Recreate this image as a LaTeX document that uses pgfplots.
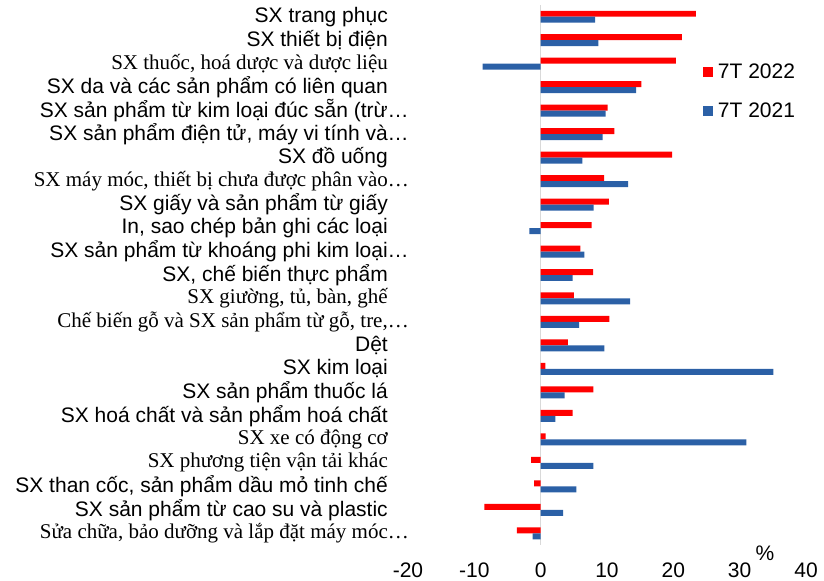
\documentclass[border=0pt]{standalone}
\usepackage{pgfplots}
\usepackage{pgfplotstable}
\pgfplotsset{compat=1.18}
\usepackage{fontspec}
\setmainfont{Liberation Sans}
\newfontfamily\serif{Liberation Serif}
\definecolor{cred}{RGB}{255,0,0}
\definecolor{cblue}{RGB}{43,96,166}
\definecolor{zline}{RGB}{217,217,217}
\pgfplotstableread{
idx y2022 y2021
0 23.4 8.2
1 21.3 8.7
2 20.4 -8.75
3 15.2 14.4
4 10.1 9.8
5 11.1 9.35
6 19.8 6.3
7 9.55 13.2
8 10.3 8.0
9 7.7 -1.7
10 6.0 6.6
11 7.9 4.8
12 5.0 13.5
13 10.35 5.8
14 4.1 9.6
15 0.7 35.1
16 7.95 3.6
17 4.8 2.2
18 0.75 31.0
19 -1.45 7.95
20 -1.0 5.4
21 -8.5 3.4
22 -3.6 -1.2
}\data
\newcommand{\lfont}{\fontsize{21bp}{23bp}\selectfont}
\begin{document}
\begin{tikzpicture}
\useasboundingbox (0,0) rectangle (824bp,581bp);
\begin{axis}[
  at={(408bp,36bp)}, anchor=south west,
  scale only axis, width=398bp, height=540bp,
  xmin=-20, xmax=40, ymin=-0.5, ymax=22.5, y dir=reverse,
  clip=false,
  xbar, bar width=0.255,
  axis line style={draw=none}, major tick length=0pt, tick style={draw=none},
  xtick={-20,-10,0,10,20,30,40}, xticklabels={-20,-10,0,10,20,30,40},
  ytick={0,...,22},
  yticklabels={
    {SX trang phục},
    {SX thiết bị điện},
    {{\serif SX thuốc, hoá dược và dược liệu}},
    {SX da và các sản phẩm có liên quan},
    {SX sản phẩm từ kim loại đúc sẵn (trừ\rlap{…}},
    {SX sản phẩm điện tử, máy vi tính và\rlap{…}},
    {SX đồ uống},
    {{\serif SX máy móc, thiết bị chưa được phân vào\rlap{…}}},
    {SX giấy và sản phẩm từ giấy},
    {In, sao chép bản ghi các loại},
    {SX sản phẩm từ khoáng phi kim loại\rlap{…}},
    {SX, chế biến thực phẩm},
    {{\serif SX giường, tủ, bàn, ghế}},
    {{\serif Chế biến gỗ và SX sản phẩm từ gỗ, tre,\rlap{…}}},
    {Dệt},
    {SX kim loại},
    {SX sản phẩm thuốc lá},
    {SX hoá chất và sản phẩm hoá chất},
    {{\serif SX xe có động cơ}},
    {{\serif SX phương tiện vận tải khác}},
    {SX than cốc, sản phẩm dầu mỏ tinh chế},
    {SX sản phẩm từ cao su và plastic},
    {{\serif Sửa chữa, bảo dưỡng và lắp đặt máy móc\rlap{…}}}
  },
  tick label style={font=\lfont},
  yticklabel style={anchor=east, inner sep=0pt, xshift=-20bp},
  xticklabel style={anchor=north, inner sep=0pt, yshift=-17.5bp},
  extra x ticks={0}, extra x tick labels={},
  extra x tick style={grid=major, major grid style={draw=zline, line width=1.6bp}},
  legend style={at={(0.7412,0.8902)}, anchor=north west, draw=none, fill=none,
    inner sep=0pt, outer sep=0pt, row sep=22.6bp, column sep=5bp, font=\lfont,
    nodes={inner sep=0pt}},
  legend cell align=left,
  legend image code/.code={\fill[#1] (0bp,-5bp) rectangle (10bp,5bp);},
]
\addplot[fill=cred, draw=none, bar shift=-0.1275] table[x=y2022, y=idx] {\data};
\addlegendentry{7T 2022}
\addplot[fill=cblue, draw=none, bar shift=0.1275] table[x=y2021, y=idx] {\data};
\addlegendentry{7T 2021}
\node[font=\lfont, inner sep=0pt] at (axis cs:33.8,22.84) {\%};
\end{axis}
\end{tikzpicture}
\end{document}
